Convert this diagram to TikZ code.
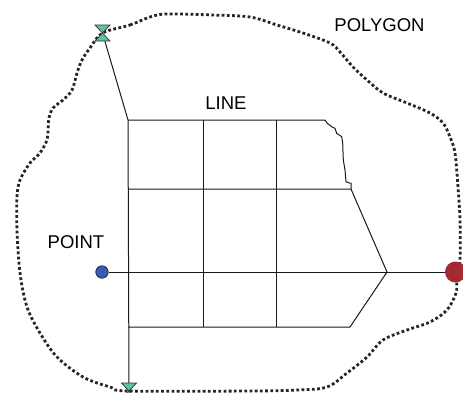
\documentclass[tikz,border=0pt]{standalone}
\usepackage{fontspec}
\setmainfont{Liberation Sans}
\begin{document}
\begin{tikzpicture}[x=1pt,y=-1pt,
  gridline/.style={draw=black!90,line width=1pt},
  polyline/.style={draw=black!85,line width=2.8pt,dash pattern=on 2.8pt off 2.4pt},
  label/.style={font=\fontsize{18.5}{22}\selectfont,inner sep=0pt},
  hourglass/.style={draw=black!80,line width=0.7pt,line join=miter}]
\definecolor{hgfill}{HTML}{5CC3A5}
\definecolor{ptfill}{HTML}{3A5BAE}
\definecolor{ptline}{HTML}{1E2A55}
\definecolor{rdfill}{HTML}{A52A2F}
\useasboundingbox (0,0) rectangle (463,392);
% polygon boundary
\draw[polyline] plot[smooth cycle,tension=0.55] coordinates {
 (102.5,33) (130,25) (150,17) (167,14) (213,15) (250,17) (277,25) (303,33)
 (330,43) (340,52) (353,67) (367,80) (383,93) (407,103) (430,113) (443,123)
 (450,137) (455,153) (458,187) (460,220) (460,260) (457,280) (456,293)
 (447,310) (430,322) (407,330) (383,340) (367,357) (347,373) (327,387)
 (297,390) (250,391) (129,391) (110,387) (83,377) (57,357) (40,333) (27,307)
 (20,273) (17,230) (17,197) (20,180) (30,163) (40,153) (47,140) (48,130)
 (49,118) (53,108) (63,100) (72,90) (77,73) (82,60) (90,48)};
% named coordinates
\coordinate (h1) at (102.5,33);
\coordinate (h2) at (129,391);
\coordinate (a0) at (128,120);
\coordinate (b0) at (203,120);
\coordinate (c0) at (276,120);
\coordinate (d0) at (325,120);
\coordinate (a1) at (128,189);
\coordinate (d1) at (351,189);
\coordinate (tip) at (387,272);
\coordinate (a3) at (128,327);
\coordinate (b3) at (203,327);
\coordinate (c3) at (276,327);
\coordinate (d3) at (350,327);
\node[circle,fill=ptfill,draw=ptline,line width=0.7pt,minimum size=12.5pt,inner sep=0pt] (pt) at (102,272) {};
\node[circle,fill=rdfill,minimum size=21pt,inner sep=0pt] (rd) at (455.5,272) {};
% grid
\draw[gridline] (h1) -- (a0) -- (h2);
\draw[gridline] (a0) -- (d0) -- (327.3,123.3) -- (331.7,126.7) -- (335,128.3) -- (336.7,133.3)
  -- (341.7,136.7) -- (342.7,143.3) -- (343.3,160) -- (345,170) -- (346,181.7)
  -- (348.3,182.7) -- (351,183.3) -- (d1) -- (a1);
\draw[gridline] (d1) -- (tip) -- (d3) -- (a3);
\draw[gridline] (pt) -- (rd);
\draw[gridline] (b0) -- (b3);
\draw[gridline] (c0) -- (c3);
% hourglasses
\foreach \h in {h1,h2}{
  \draw[hourglass,fill=hgfill,shift={(\h)}] (-7.5,-8) -- (7.5,-8) -- (0,0) -- cycle
     (0,0) -- (-7.5,8) -- (7.5,8) -- cycle;
}
% labels
\node[label] (lline) at (226,103) {LINE};
\node[label] (lpoly) at (379.5,25) {POLYGON};
\node[label] (lpoint) at (76,242) {POINT};
\end{tikzpicture}
\end{document}
